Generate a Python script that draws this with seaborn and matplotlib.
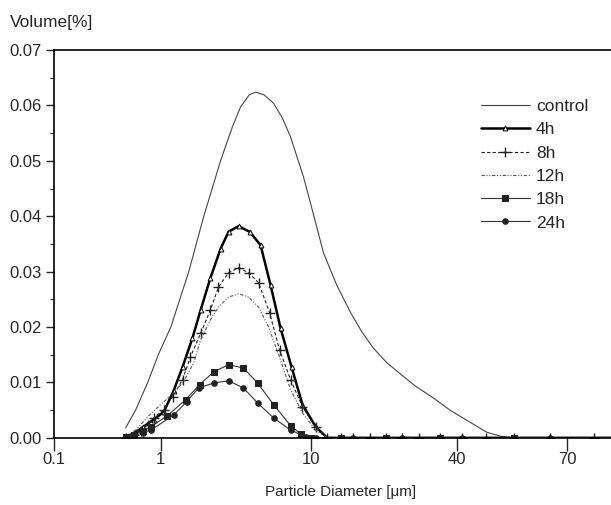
import numpy as np
import pandas as pd
import matplotlib
matplotlib.use("Agg")
import matplotlib.pyplot as plt
import seaborn as sns

# ==========================
# DATA
# ==========================

tail_x = [13.3, 15.0, 17.5, 20.3, 23.8, 27.9, 34.0, 41.0, 46.3, 53.5, 64.0, 80.4, 95.0]
tail_y = [0.0] * len(tail_x)

control_x = [0.47, 0.583, 0.757, 0.95, 1.17, 1.54, 1.94, 2.51, 3.0, 3.41, 3.9, 4.30,
             4.9, 5.67, 6.5, 7.36, 8.98, 10.3, 11.3, 12.8, 14.6, 16.2, 18.1, 20.5,
             23.4, 26.8, 31.9, 37.3, 42.1, 46.5, 49.8, 53.2, 64.0, 95.0]
control_y = [0.0018, 0.0050, 0.0100, 0.0150, 0.0200, 0.0300, 0.0400, 0.0500, 0.0560,
             0.0597, 0.0619, 0.0624, 0.0619, 0.0604, 0.0577, 0.0543, 0.0471, 0.0402,
             0.0334, 0.0276, 0.0226, 0.0192, 0.0162, 0.0136, 0.0115, 0.0094, 0.0072,
             0.0050, 0.0031, 0.0010, 0.0003, 0.0, 0.0, 0.0]

h4_x = [0.47, 0.56, 0.69, 0.86, 1.05, 1.22, 1.40, 1.63, 1.85, 2.15, 2.51, 2.84, 3.31,
        3.92, 4.64, 5.41, 6.31, 7.47, 8.84, 10.5, 11.7]
h4_y = [0.0002, 0.0008, 0.0020, 0.0033, 0.0047, 0.0085, 0.0128, 0.0180, 0.0231,
        0.0289, 0.0341, 0.0372, 0.0382, 0.0372, 0.0348, 0.0276, 0.0198, 0.0128,
        0.0060, 0.0020, 0.0]

h8_x = [0.47, 0.56, 0.65, 0.76, 0.86, 1.05, 1.20, 1.40, 1.58, 1.85, 2.15, 2.43, 2.84,
        3.31, 3.86, 4.50, 5.33, 6.21, 7.36, 8.84, 10.5, 11.7]
h8_y = [0.0, 0.0006, 0.0013, 0.0024, 0.0036, 0.0051, 0.0074, 0.0105, 0.0146, 0.0189,
        0.0231, 0.0272, 0.0298, 0.0307, 0.0298, 0.0280, 0.0226, 0.0159, 0.0105,
        0.0056, 0.0020, 0.0]

h12_x = [0.47, 0.60, 0.757, 1.0, 1.22, 1.42, 1.66, 1.85, 2.15, 2.43, 2.84, 3.31, 3.86,
         4.50, 5.25, 6.21, 7.36, 8.84, 10.5, 11.7]
h12_y = [0.0, 0.0016, 0.0038, 0.0060, 0.0081, 0.0101, 0.0135, 0.0177, 0.0213, 0.0236,
         0.0254, 0.0260, 0.0254, 0.0236, 0.0200, 0.0146, 0.0087, 0.0045, 0.0014, 0.0]

h18_x = [0.47, 0.56, 0.68, 0.81, 1.11, 1.47, 1.82, 2.26, 2.84, 3.57, 4.43, 5.67,
         7.36, 8.58, 10.0]
h18_y = [0.0002, 0.0006, 0.0012, 0.0020, 0.0040, 0.0069, 0.0096, 0.0119, 0.0132,
         0.0126, 0.0099, 0.0060, 0.0022, 0.0007, 0.0]

h24_x = [0.47, 0.56, 0.68, 0.81, 1.22, 1.49, 1.79, 2.26, 2.84, 3.57, 4.43, 5.67,
         7.36, 9.26, 10.5]
h24_y = [0.0, 0.0004, 0.0009, 0.0014, 0.0041, 0.0065, 0.0090, 0.0099, 0.0103,
         0.0090, 0.0063, 0.0036, 0.0014, 0.0002, 0.0]

tick_values = [0.1, 1, 10, 40, 70]
tick_labels = ["0.1", "1", "10", "40", "70"]

# ==========================
# AXIS SCALE (the original axis is not a plain log axis)
# ==========================

anchor_log = np.log10([0.01, 0.1, 1, 10, 40, 70, 300])
anchor_pos = np.array([-107, 0, 107, 257, 404, 514, 514 + 452 * np.log10(300 / 70)])


def fwd(x):
    x = np.clip(np.asarray(x, dtype=float), 1e-3, None)
    return np.interp(np.log10(x), anchor_log, anchor_pos)


def inv(p):
    return 10 ** np.interp(np.asarray(p, dtype=float), anchor_pos, anchor_log)


# ==========================
# PLOT
# ==========================

sns.set_style("ticks")
plt.rcParams["font.family"] = ["Liberation Sans", "DejaVu Sans"]

fig = plt.figure(figsize=(6.11, 5.05), dpi=100)
ax = fig.add_axes([0.088, 0.133, 0.912, 0.768])
ax.set_xscale("function", functions=(fwd, inv))

series = [
    ("control", control_x, control_y, dict(color="#444444", lw=0.8)),
    ("4h", h4_x + tail_x, h4_y + tail_y,
     dict(color="black", lw=1.8, marker="^", ms=3.5, mfc="white", mec="black", mew=0.7)),
    ("8h", h8_x + tail_x, h8_y + tail_y,
     dict(color="#222222", lw=0.8, ls=(0, (3, 2)), marker="+", ms=7, mew=1.0,
          mec="#222222")),
    ("12h", h12_x, h12_y,
     dict(color="#555555", lw=0.8, ls=(0, (3, 1.5, 1, 1.5, 1, 1.5)))),
    ("18h", h18_x + tail_x[::3], h18_y + tail_y[::3],
     dict(color="#333333", lw=0.8, marker="s", ms=4, mec="#222222", mfc="#222222")),
    ("24h", h24_x + tail_x[1::3], h24_y + tail_y[1::3],
     dict(color="#333333", lw=0.8, marker="o", ms=4, mec="#222222", mfc="#222222")),
]

for name, xs, ys, style in series:
    df = pd.DataFrame({"x": xs, "y": ys})
    sns.lineplot(data=df, x="x", y="y", ax=ax, label=name, errorbar=None, **style)

ax.set_xlim(0.1, 87.5)
ax.set_ylim(0, 0.07)
ax.set_xticks(tick_values)
ax.set_xticklabels(tick_labels)
ax.xaxis.set_minor_locator(plt.NullLocator())
ax.set_yticks(np.arange(0, 0.0701, 0.01))
ax.set_yticks(np.arange(0.005, 0.07, 0.01), minor=True)
ax.yaxis.set_major_formatter(plt.FormatStrFormatter("%.2f"))
ax.tick_params(axis="x", direction="out", length=9, width=1.0, labelsize=12, pad=1)
ax.tick_params(axis="y", which="major", direction="out", length=6, width=1.0,
               labelsize=12, pad=3)
ax.tick_params(axis="y", which="minor", direction="out", length=3, width=0.8)
ax.set_xlabel("")
ax.set_ylabel("")

for side in ["left", "bottom", "top"]:
    ax.spines[side].set_linewidth(1.2)
    ax.spines[side].set_color("black")
ax.spines["right"].set_visible(False)

leg = ax.legend(loc="upper left", bbox_to_anchor=(0.776, 0.818),
                bbox_transform=fig.transFigure, borderaxespad=0, frameon=False,
                fontsize=12.5, handlelength=2.8, handletextpad=0.35, labelspacing=0.47)

fig.text(0.016, 0.955, "Volume[%]", fontsize=12.5, ha="left", va="center")
fig.text(0.557, 0.026, "Particle Diameter [\u03bcm]", fontsize=11, ha="center", va="center")

plt.savefig("out.png", dpi=100)
plt.close()
